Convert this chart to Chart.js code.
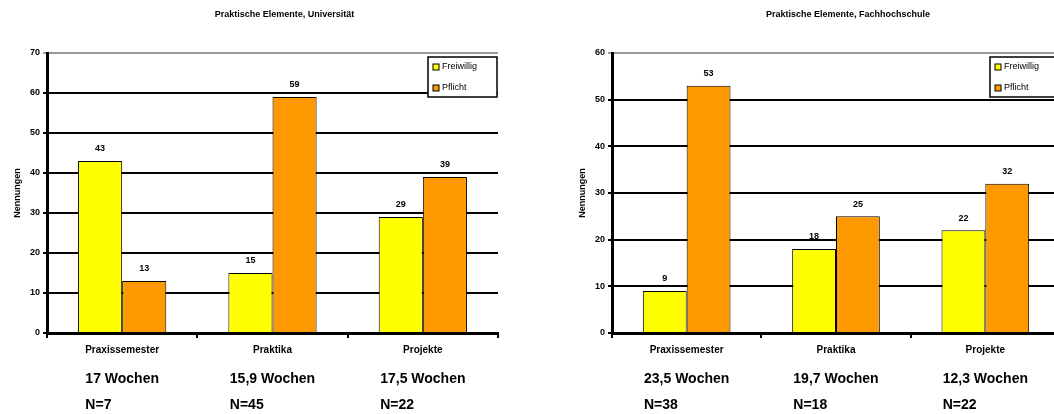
<!DOCTYPE html>
<html>
<head>
<meta charset="utf-8">
<script src="https://cdn.jsdelivr.net/npm/chart.js"></script>
<style>
  html, body { margin: 0; padding: 0; background: white; overflow: hidden; }
  body { width: 1054px; height: 414px; position: relative; }
  .box { position: absolute; top: 0; height: 414px; }
  #boxUni { left: 0; width: 527px; }
  #boxFh { left: 527px; width: 540px; }
</style>
</head>
<body>
<div class="box" id="boxUni"><canvas id="uni"></canvas></div>
<div class="box" id="boxFh"><canvas id="fh"></canvas></div>
<script>
Chart.defaults.font.family = "'Liberation Sans', Arial, sans-serif";
Chart.defaults.color = "black";

const categories = ["Praxissemester", "Praktika", "Projekte"];

// Universität
const uniFreiwillig = [43, 15, 29];
const uniPflicht = [13, 59, 39];
const uniWeeks = ["17 Wochen", "15,9 Wochen", "17,5 Wochen"];
const uniCounts = ["N=7", "N=45", "N=22"];

// Fachhochschule
const fhFreiwillig = [9, 18, 22];
const fhPflicht = [53, 25, 32];
const fhWeeks = ["23,5 Wochen", "19,7 Wochen", "12,3 Wochen"];
const fhCounts = ["N=38", "N=18", "N=22"];

const yellow = "#FFFF00";
const orange = "#FF9900";

// title, value labels, extra x lines and legend box
const decor = {
  id: "decor",
  afterDraw(chart) {
    const o = chart.options.plugins.decor;
    const ctx = chart.ctx;
    const a = chart.chartArea;
    const xs = chart.scales.x;
    ctx.save();
    ctx.fillStyle = "black";
    ctx.textAlign = "center";
    ctx.textBaseline = "middle";

    ctx.font = "bold 9px 'Liberation Sans'";
    ctx.fillText(o.title, (a.left + a.right) / 2 + 12, 15);

    chart.data.datasets.forEach((ds, i) => {
      chart.getDatasetMeta(i).data.forEach((bar, j) => {
        ctx.fillText(ds.data[j], bar.x, bar.y - 12);
      });
    });

    ctx.font = "bold 14px 'Liberation Sans'";
    ctx.textAlign = "left";
    o.weeks.forEach((w, j) => {
      const cx = xs.getPixelForValue(j);
      const left = cx - ctx.measureText(w).width / 2;
      ctx.fillText(w, left, 379);
      ctx.fillText(o.counts[j], left, 405);
    });

    // legend
    const lx = a.right - 70;
    const ly = a.top + 4;
    ctx.fillStyle = "white";
    ctx.fillRect(lx, ly, 69, 40);
    ctx.strokeStyle = "black";
    ctx.lineWidth = 1.5;
    ctx.strokeRect(lx, ly, 69, 40);
    ctx.font = "9px 'Liberation Sans'";
    chart.data.datasets.forEach((ds, i) => {
      const yy = ly + 10 + i * 21;
      ctx.fillStyle = ds.backgroundColor;
      ctx.fillRect(lx + 5, yy - 3, 6, 6);
      ctx.lineWidth = 1;
      ctx.strokeRect(lx + 5, yy - 3, 6, 6);
      ctx.fillStyle = "black";
      ctx.fillText(ds.label, lx + 14, yy);
    });
    ctx.restore();
  },
};

function makeConfig(freiwillig, pflicht, yMax, title, weeks, counts, padLeft, padRight) {
  return {
    type: "bar",
    data: {
      labels: categories,
      datasets: [
        {
          label: "Freiwillig",
          data: freiwillig,
          backgroundColor: yellow,
          borderColor: "black",
          borderWidth: 1,
        },
        {
          label: "Pflicht",
          data: pflicht,
          backgroundColor: orange,
          borderColor: "black",
          borderWidth: 1,
        },
      ],
    },
    options: {
      responsive: true,
      maintainAspectRatio: false,
      animation: false,
      categoryPercentage: 0.587,
      barPercentage: 1,
      layout: {
        padding: { left: padLeft, right: padRight, top: 53, bottom: 0 },
      },
      scales: {
        x: {
          grid: {
            offset: true,
            drawOnChartArea: false,
            color: "black",
            lineWidth: 2,
            tickLength: 5,
          },
          border: { display: true, color: "black", width: 3 },
          ticks: {
            padding: 6,
            font: { size: 10, weight: "bold" },
          },
          afterFit: (scale) => {
            scale.height = 81;
          },
        },
        y: {
          min: 0,
          max: yMax,
          ticks: {
            stepSize: 10,
            padding: 3,
            font: { size: 9, weight: "bold" },
          },
          grid: {
            color: (c) => (c.tick && c.tick.value === yMax ? "#999999" : "black"),
            lineWidth: 2,
            tickLength: 4,
          },
          border: { display: true, color: "black", width: 3 },
          title: {
            display: true,
            text: "Nennungen",
            padding: 0,
            font: { size: 9, weight: "bold" },
          },
          afterFit: (scale) => {
            scale.width = 35;
          },
        },
      },
      plugins: {
        legend: { display: false },
        tooltip: { enabled: false },
        decor: { title: title, weeks: weeks, counts: counts },
      },
    },
    plugins: [decor],
  };
}

const uniChart = new Chart(
  document.getElementById("uni").getContext("2d"),
  makeConfig(uniFreiwillig, uniPflicht, 70, "Praktische Elemente, Universität", uniWeeks, uniCounts, 12, 29)
);

const fhChart = new Chart(
  document.getElementById("fh").getContext("2d"),
  makeConfig(fhFreiwillig, fhPflicht, 60, "Praktische Elemente, Fachhochschule", fhWeeks, fhCounts, 50, 7)
);
</script>
</body>
</html>
